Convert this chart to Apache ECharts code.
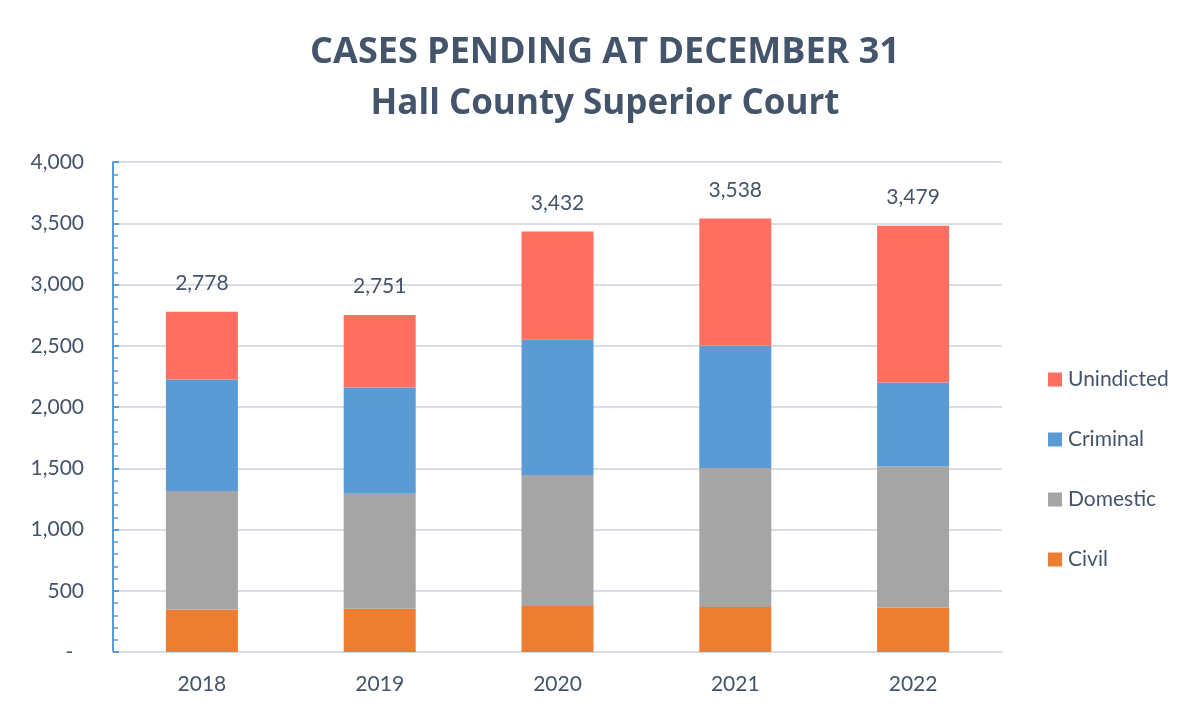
<!DOCTYPE html>
<html>
<head>
<meta charset="utf-8">
<script src="https://cdn.jsdelivr.net/npm/echarts@6/dist/echarts.min.js"></script>
<style>
  html, body { margin: 0; padding: 0; background: #fff; }
  #chart { width: 1190px; height: 712px; }
</style>
</head>
<body>
<div id="chart"></div>
<script>
const years = ['2018', '2019', '2020', '2021', '2022']
const civil = [346, 354, 375, 367, 364]
const domestic = [969, 937, 1070, 1135, 1151]
const criminal = [910, 869, 1103, 999, 685]
const unindicted = [553, 591, 884, 1037, 1279]
const yTicks = [0, 500, 1000, 1500, 2000, 2500, 3000, 3500, 4000]

const totals = years.map((y, i) => civil[i] + domestic[i] + criminal[i] + unindicted[i])
const textColor = '#44546A'
const font = 'Lato'

const myChart = echarts.init(document.getElementById('chart'))

const option = {
  backgroundColor: '#fff',
  animation: false,
  title: {
    text: 'CASES PENDING AT DECEMBER 31',
    subtext: 'Hall County Superior Court',
    left: 605,
    textAlign: 'center',
    top: 32,
    padding: 0,
    itemGap: 10,
    textStyle: {
      color: textColor,
      fontFamily: 'Open Sans',
      fontWeight: 'bold',
      fontSize: 36,
      lineHeight: 42
    },
    subtextStyle: {
      color: textColor,
      fontFamily: 'Open Sans',
      fontWeight: 'bold',
      fontSize: 35,
      lineHeight: 40
    }
  },
  legend: {
    orient: 'vertical',
    left: 1043,
    top: 364,
    itemWidth: 14,
    itemHeight: 14,
    itemGap: 39,
    icon: 'rect',
    data: ['Unindicted', 'Criminal', 'Domestic', 'Civil'],
    textStyle: { color: textColor, fontFamily: font, fontSize: 21, padding: [0, 0, 0, 1] }
  },
  grid: { left: 113, right: 188, top: 162, bottom: 60 },
  xAxis: {
    type: 'category',
    data: years,
    axisLine: { show: true, lineStyle: { color: '#D9DEE6', width: 2 } },
    axisTick: { show: false },
    axisLabel: { color: textColor, fontFamily: font, fontSize: 21, margin: 22 }
  },
  yAxis: {
    type: 'value',
    min: yTicks[0],
    max: yTicks[yTicks.length - 1],
    interval: 500,
    axisLine: { show: true, lineStyle: { color: '#5B9BD5', width: 2 } },
    axisTick: { show: true, inside: true, length: 6, lineStyle: { color: '#5B9BD5', width: 2 } },
    minorTick: { show: true, splitNumber: 5, length: 5, lineStyle: { color: '#5B9BD5', width: 1.5 } },
    splitLine: { lineStyle: { color: '#D9DEE6', width: 2 } },
    axisLabel: {
      color: textColor,
      fontFamily: font,
      fontSize: 21,
      margin: 29,
      formatter: v => v === 0 ? '-  ' : v.toLocaleString('en-US')
    }
  },
  series: [
    {
      name: 'Civil', type: 'bar', stack: 'all', barWidth: 72,
      itemStyle: { color: '#ED7D31' }, data: civil
    },
    {
      name: 'Domestic', type: 'bar', stack: 'all', barWidth: 72,
      itemStyle: { color: '#A5A5A5' }, data: domestic
    },
    {
      name: 'Criminal', type: 'bar', stack: 'all', barWidth: 72,
      itemStyle: { color: '#5B9BD5' }, data: criminal
    },
    {
      name: 'Unindicted', type: 'bar', stack: 'all', barWidth: 72,
      itemStyle: { color: '#FF6F61' }, data: unindicted,
      label: {
        show: true,
        position: 'top',
        distance: 18,
        color: textColor,
        fontFamily: font,
        fontSize: 21,
        formatter: p => totals[p.dataIndex].toLocaleString('en-US')
      }
    }
  ]
}
option && myChart.setOption(option)
</script>
</body>
</html>
